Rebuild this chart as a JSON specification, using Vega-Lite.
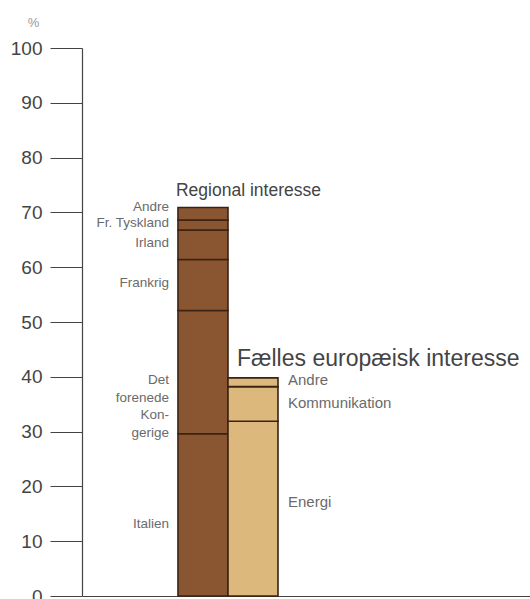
{
  "$schema": "https://vega.github.io/schema/vega-lite/v6.json",
  "width": 448,
  "height": 548,
  "autosize": {"type": "none"},
  "padding": {"left": 82, "top": 48, "right": 0, "bottom": 3},
  "background": "white",
  "config": {"view": {"stroke": null}, "font": "Liberation Sans"},
  "datasets": {
    "segments": [
      {"gruppe": "Regional interesse", "del": "Italien", "rank": 1, "pct": 29.6},
      {"gruppe": "Regional interesse", "del": "Det forenede Kongerige", "rank": 2, "pct": 22.5},
      {"gruppe": "Regional interesse", "del": "Frankrig", "rank": 3, "pct": 9.3},
      {"gruppe": "Regional interesse", "del": "Irland", "rank": 4, "pct": 5.4},
      {"gruppe": "Regional interesse", "del": "Fr. Tyskland", "rank": 5, "pct": 1.8},
      {"gruppe": "Regional interesse", "del": "Andre", "rank": 6, "pct": 2.3},
      {"gruppe": "Fælles europæisk interesse", "del": "Energi", "rank": 1, "pct": 31.9},
      {"gruppe": "Fælles europæisk interesse", "del": "Kommunikation", "rank": 2, "pct": 6.3},
      {"gruppe": "Fælles europæisk interesse", "del": "Andre", "rank": 3, "pct": 1.6}
    ],
    "leftLabels": [
      {"gruppe": "Regional interesse", "label": ["Andre"], "at": 70.9},
      {"gruppe": "Regional interesse", "label": ["Fr. Tyskland"], "at": 68.0},
      {"gruppe": "Regional interesse", "label": ["Irland"], "at": 64.4},
      {"gruppe": "Regional interesse", "label": ["Frankrig"], "at": 57.1},
      {"gruppe": "Regional interesse", "label": ["Det", "forenede", "Kon-", "gerige"], "at": 39.4},
      {"gruppe": "Regional interesse", "label": ["Italien"], "at": 13.1}
    ],
    "rightLabels": [
      {"gruppe": "Fælles europæisk interesse", "label": "Andre", "at": 39.4},
      {"gruppe": "Fælles europæisk interesse", "label": "Kommunikation", "at": 35.2},
      {"gruppe": "Fælles europæisk interesse", "label": "Energi", "at": 17.2}
    ],
    "titles": [
      {"gruppe": "Regional interesse", "total": 70.9},
      {"gruppe": "Fælles europæisk interesse", "total": 39.8}
    ]
  },
  "encoding": {
    "x": {
      "field": "gruppe",
      "type": "nominal",
      "scale": {
        "domain": ["p0", "Regional interesse", "Fælles europæisk interesse", "p3", "p4", "p5", "p6", "p7"],
        "paddingInner": 0,
        "paddingOuter": 0.48,
        "align": 0.958
      },
      "axis": {"labels": false, "ticks": false, "title": null, "domainColor": "#444", "domainWidth": 1.2, "orient": "bottom"}
    }
  },
  "layer": [
    {
      "data": {"name": "segments"},
      "mark": {"type": "bar", "stroke": "#3b2212", "strokeWidth": 1.6},
      "encoding": {
        "y": {
          "field": "pct",
          "type": "quantitative",
          "stack": "zero",
          "scale": {"domain": [0, 100], "nice": false},
          "axis": {
            "values": [0, 10, 20, 30, 40, 50, 60, 70, 80, 90, 100],
            "tickSize": 32,
            "tickColor": "#444",
            "tickWidth": 1.2,
            "domainColor": "#444",
            "domainWidth": 1.2,
            "labelFontSize": 19,
            "labelColor": "#444",
            "labelPadding": 8,
            "grid": false,
            "title": "%",
            "titleAngle": 0,
            "titleX": -49,
            "titleY": -26,
            "titleAlign": "center",
            "titleBaseline": "middle",
            "titleFontSize": 13,
            "titleFontWeight": "normal",
            "titleColor": "#999"
          }
        },
        "color": {
          "field": "gruppe",
          "type": "nominal",
          "scale": {"domain": ["Regional interesse", "Fælles europæisk interesse"], "range": ["#8a5632", "#dcb87c"]},
          "legend": null
        },
        "order": {"field": "rank", "type": "quantitative"}
      }
    },
    {
      "data": {"name": "leftLabels"},
      "mark": {"type": "text", "align": "right", "baseline": "middle", "dx": -9, "fontSize": 13.5, "color": "#6a6a6a", "lineHeight": 17.5},
      "encoding": {
        "x": {"field": "gruppe", "type": "nominal", "bandPosition": 0},
        "y": {"field": "at", "type": "quantitative"},
        "text": {"field": "label"}
      }
    },
    {
      "data": {"name": "rightLabels"},
      "mark": {"type": "text", "align": "left", "baseline": "middle", "dx": 10, "fontSize": 15, "color": "#6a6a6a"},
      "encoding": {
        "x": {"field": "gruppe", "type": "nominal", "bandPosition": 1},
        "y": {"field": "at", "type": "quantitative"},
        "text": {"field": "label"}
      }
    },
    {
      "data": {"name": "titles"},
      "transform": [{"filter": "datum.gruppe === 'Regional interesse'"}],
      "mark": {"type": "text", "align": "left", "baseline": "alphabetic", "dx": -2, "dy": -11, "fontSize": 17.5, "color": "#444"},
      "encoding": {
        "x": {"field": "gruppe", "type": "nominal", "bandPosition": 0},
        "y": {"field": "total", "type": "quantitative"},
        "text": {"field": "gruppe"}
      }
    },
    {
      "data": {"name": "titles"},
      "transform": [{"filter": "datum.gruppe === 'Fælles europæisk interesse'"}],
      "mark": {"type": "text", "align": "left", "baseline": "alphabetic", "dx": 9, "dy": -12, "fontSize": 23, "color": "#444"},
      "encoding": {
        "x": {"field": "gruppe", "type": "nominal", "bandPosition": 0},
        "y": {"field": "total", "type": "quantitative"},
        "text": {"field": "gruppe"}
      }
    }
  ]
}
